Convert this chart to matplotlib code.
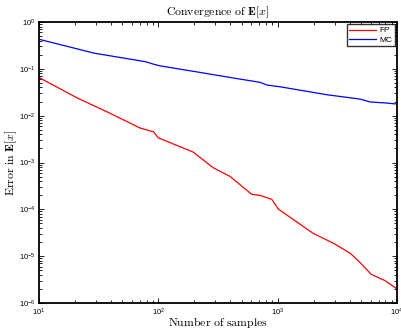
import matplotlib
matplotlib.use("Agg")
import matplotlib.pyplot as plt

plt.rcParams["font.family"] = ["Liberation Sans", "DejaVu Sans"]
plt.rcParams["mathtext.fontset"] = "cm"

# FP (fixed-point?) error
fp_n = [10, 21, 39, 70, 88, 91, 100, 196, 289, 399, 607, 711, 893, 1015,
        1992, 2930, 4045, 4910, 6070, 7943, 10000]
fp_err = [0.0653, 0.0238, 0.0114, 0.00547, 0.00463, 0.00455, 0.00336,
          0.00167, 7.7e-4, 5.04e-4, 2.09e-4, 1.99e-4, 1.63e-4, 1.01e-4,
          3.05e-5, 1.89e-5, 1.16e-5, 7.3e-6, 4.1e-6, 3.0e-6, 2.0e-6]

# MC error
mc_n = [10, 29, 60, 79, 91, 103, 216, 469, 711, 815, 1047, 2580, 4910,
        5960, 8210, 10000]
mc_err = [0.428, 0.216, 0.159, 0.141, 0.126, 0.116, 0.0851, 0.0612,
          0.0516, 0.045, 0.0414, 0.028, 0.0226, 0.0196, 0.0186, 0.0177]


def main():
    fig = plt.figure(figsize=(4.02, 3.31), dpi=100)
    ax = fig.add_axes([0.097, 0.0846, 0.8906, 0.8489])

    ax.loglog(fp_n, fp_err, color="red", linewidth=0.9, label="FP")
    ax.loglog(mc_n, mc_err, color="blue", linewidth=0.9, label="MC")

    ax.set_xlim(10, 1e4)
    ax.set_ylim(1e-6, 1)

    ax.tick_params(which="both", direction="in", top=True, right=True,
                   labelsize=5.5, width=0.6, pad=2.5)
    ax.tick_params(which="major", length=3.5)
    ax.tick_params(which="minor", length=2)
    for s in ax.spines.values():
        s.set_linewidth(1.3)

    ax.set_title(r"$\mathrm{Convergence\ of\ }\mathbf{E}[x]$", fontsize=8.5, pad=5)
    ax.set_xlabel(r"$\mathrm{Number\ of\ samples}$", fontsize=8.5, labelpad=-2)
    ax.set_ylabel(r"$\mathrm{Error\ in\ }\mathbf{E}[x]$", fontsize=8.5, labelpad=-1)
    ax.yaxis.set_label_coords(-0.055, 0.5)

    leg = ax.legend(loc="upper right", fontsize=6, fancybox=False,
                    borderaxespad=0.25, handlelength=3.2, handletextpad=0.4,
                    borderpad=0.3, labelspacing=0.2)
    leg.get_frame().set_edgecolor("black")
    leg.get_frame().set_linewidth(1.0)

    fig.savefig("out.png", dpi=100)


if __name__ == '__main__':
    main()
